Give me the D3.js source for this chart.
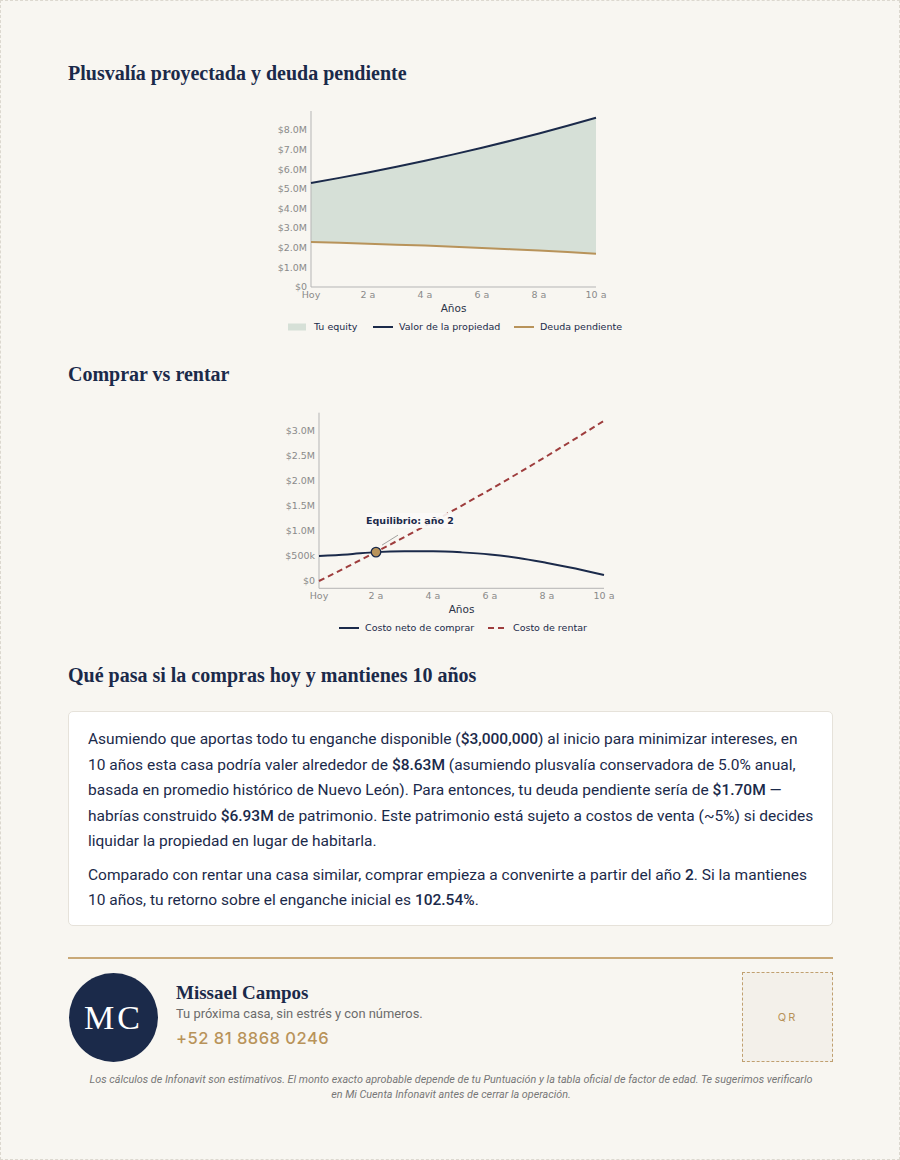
<!DOCTYPE html>
<html><head><meta charset="utf-8">
<script src="https://cdn.jsdelivr.net/npm/d3@7"></script>
<style>
html,body{margin:0;padding:0;background:#f8f6f1;}
#page{position:relative;width:898px;height:1158px;border:1px dashed #dcd8cf;background:#f8f6f1;overflow:hidden;font-family:Inter,"Noto Sans",sans-serif;color:#1b2a4a;}
.h{position:absolute;left:67px;font-family:"Liberation Serif","DejaVu Serif",serif;font-weight:bold;font-size:20px;color:#1b2a4a;white-space:nowrap;}
#card{position:absolute;left:67px;top:710px;width:765px;height:215px;background:#fff;border:1px solid #e6e2da;border-radius:5px;box-sizing:border-box;padding:15px 19px;}
#card p{margin:0 0 8px 0;font-family:Roboto,Inter,sans-serif;font-size:15.5px;line-height:25.5px;white-space:nowrap;}
#card b{font-weight:500;}
#rule{position:absolute;left:67px;top:956px;width:765px;height:2px;background:#c9a978;}
#avatar{position:absolute;left:68px;top:972px;width:89px;height:89px;border-radius:50%;background:#1b2a4a;color:#fff;font-family:"Liberation Serif","DejaVu Serif",serif;font-size:34px;line-height:89px;text-align:center;letter-spacing:3px;}
#name{position:absolute;left:175px;top:981px;font-family:"Liberation Serif","DejaVu Serif",serif;font-weight:bold;font-size:19px;color:#1b2a4a;}
#tag{position:absolute;left:175px;top:1005px;font-family:Roboto,sans-serif;font-size:12.9px;color:#6b6b6b;}
#phone{position:absolute;left:175px;top:1027px;font-size:16.5px;color:#b8935a;letter-spacing:0.5px;font-weight:500;}
#qr{position:absolute;left:741px;top:971px;width:91px;height:90px;box-sizing:border-box;border:1.5px dashed #c0a070;background:#f3f0ea;color:#b8935a;font-size:11px;letter-spacing:2px;text-align:center;line-height:88px;}
#disc{position:absolute;left:60px;top:1071px;width:780px;text-align:center;font-family:Roboto,sans-serif;font-size:10.8px;line-height:15px;font-style:italic;color:#777;}
</style></head>
<body><div id="page">
<div class="h" style="top:61px">Plusvalía proyectada y deuda pendiente</div>
<div class="h" style="top:362px">Comprar vs rentar</div>
<div class="h" style="top:663px">Qué pasa si la compras hoy y mantienes 10 años</div>
<svg id="charts" width="900" height="660" style="position:absolute;left:0;top:0"></svg>
<div id="card">
<p>Asumiendo que aportas todo tu enganche disponible (<b>$3,000,000</b>) al inicio para minimizar intereses, en<br>10 años esta casa podría valer alrededor de <b>$8.63M</b> (asumiendo plusvalía conservadora de 5.0% anual,<br>basada en promedio histórico de Nuevo León). Para entonces, tu deuda pendiente sería de <b>$1.70M</b> —<br>habrías construido <b>$6.93M</b> de patrimonio. Este patrimonio está sujeto a costos de venta (~5%) si decides<br>liquidar la propiedad en lugar de habitarla.</p>
<p>Comparado con rentar una casa similar, comprar empieza a convenirte a partir del año <b>2</b>. Si la mantienes<br>10 años, tu retorno sobre el enganche inicial es <b>102.54%</b>.</p>
</div>
<div id="rule"></div>
<div id="avatar">MC</div>
<div id="name">Missael Campos</div>
<div id="tag">Tu próxima casa, sin estrés y con números.</div>
<div id="phone">+52 81 8868 0246</div>
<div id="qr">QR</div>
<div id="disc">Los cálculos de Infonavit son estimativos. El monto exacto aprobable depende de tu Puntuación y la tabla oficial de factor de edad. Te sugerimos verificarlo<br>en Mi Cuenta Infonavit antes de cerrar la operación.</div>
</div>
<script>
// ---- data ----
const years = [0,1,2,3,4,5,6,7,8,9,10];
const xTickLabels = ["Hoy","2 a","4 a","6 a","8 a","10 a"];
const xTickValues = [0,2,4,6,8,10];
const propertyValue = [5.30,5.565,5.843,6.135,6.442,6.764,7.102,7.457,7.830,8.222,8.633];
const debtRemaining = [2.30,2.26,2.21,2.16,2.11,2.05,1.99,1.93,1.86,1.78,1.70];
const yTicks1 = [0,1,2,3,4,5,6,7,8];
const buyNetCost = [0.50,0.53,0.575,0.59,0.59,0.57,0.53,0.46,0.36,0.25,0.12];
const rentCost = [0,0.285,0.577,0.876,1.183,1.497,1.819,2.149,2.488,2.834,3.19];
const yTicks2 = [0,0.5,1.0,1.5,2.0,2.5,3.0];
const breakEvenYear = 2;

const NAVY="#1b2a4a", GOLD="#b8935a", RED="#9e3d3d", FILL="#d6e0d7", GRAY="#8a8a8a", SPINE="#b5b5b5";
const svg = d3.select("#charts");
const fmt1 = v => v===0 ? "$0" : "$"+v.toFixed(1)+"M";
const fmt2 = v => v===0 ? "$0" : (v<1 ? "$"+Math.round(v*1000)+"k" : "$"+v.toFixed(1)+"M");

function frame(g, x, y, yt, fmt, xLabelY){
  const [x0,x1]=x.range(), [yb,yt0]=y.range();
  g.append("line").attr("x1",x0).attr("x2",x0).attr("y1",yb).attr("y2",yt0).attr("stroke",SPINE).attr("stroke-width",1);
  g.append("line").attr("x1",x0).attr("x2",x1).attr("y1",yb).attr("y2",yb).attr("stroke",SPINE).attr("stroke-width",1);
  g.selectAll(".yt").data(yt).join("text").attr("x",x0-4).attr("y",d=>y(d)).attr("dy","0.35em")
    .attr("text-anchor","end").attr("font-family","DejaVu Sans").attr("font-size",9.5).attr("fill",GRAY).text(fmt);
  g.selectAll(".xt").data(xTickValues).join("text").attr("x",d=>x(d)).attr("y",yb+11)
    .attr("text-anchor","middle").attr("font-family","DejaVu Sans").attr("font-size",9.5).attr("fill",GRAY)
    .text((d,i)=>xTickLabels[i]);
  g.append("text").attr("x",(x0+x1)/2).attr("y",xLabelY).attr("text-anchor","middle")
    .attr("font-family","DejaVu Sans").attr("font-size",10.5).attr("fill","#2b3347").text("Años");
}

// ---- chart 1 ----
{
  const g = svg.append("g");
  const x = d3.scaleLinear().domain([0,10]).range([310,595]);
  const y = d3.scaleLinear().domain([0,8.975]).range([286,110]);
  g.append("path").datum(years).attr("fill",FILL)
    .attr("d",d3.area().x(d=>x(d)).y0((d,i)=>y(debtRemaining[i])).y1((d,i)=>y(propertyValue[i])));
  frame(g,x,y,yTicks1,fmt1,311);
  g.append("path").datum(years).attr("fill","none").attr("stroke",GOLD).attr("stroke-width",2)
    .attr("d",d3.line().x(d=>x(d)).y((d,i)=>y(debtRemaining[i])));
  g.append("path").datum(years).attr("fill","none").attr("stroke",NAVY).attr("stroke-width",2)
    .attr("d",d3.line().x(d=>x(d)).y((d,i)=>y(propertyValue[i])));
  const ly=326;
  g.append("rect").attr("x",287).attr("y",ly-3.5).attr("width",18).attr("height",7).attr("fill",FILL);
  g.append("text").attr("x",313).attr("y",ly).attr("dy","0.35em").attr("font-family","DejaVu Sans").attr("font-size",9.5).attr("fill",NAVY).text("Tu equity");
  g.append("line").attr("x1",372).attr("x2",392).attr("y1",ly).attr("y2",ly).attr("stroke",NAVY).attr("stroke-width",2);
  g.append("text").attr("x",398).attr("y",ly).attr("dy","0.35em").attr("font-family","DejaVu Sans").attr("font-size",9.5).attr("fill",NAVY).text("Valor de la propiedad");
  g.append("line").attr("x1",513).attr("x2",533).attr("y1",ly).attr("y2",ly).attr("stroke",GOLD).attr("stroke-width",2);
  g.append("text").attr("x",539).attr("y",ly).attr("dy","0.35em").attr("font-family","DejaVu Sans").attr("font-size",9.5).attr("fill",NAVY).text("Deuda pendiente");
}

// ---- chart 2 ----
{
  const g = svg.append("g");
  const x = d3.scaleLinear().domain([0,10]).range([318,603]);
  const y = d3.scaleLinear().domain([-0.145,3.35]).range([587.3,411.7]);
  frame(g,x,y,yTicks2,fmt2,612);
  g.append("path").datum(years).attr("fill","none").attr("stroke",NAVY).attr("stroke-width",2)
    .attr("d",d3.line().curve(d3.curveMonotoneX).x(d=>x(d)).y((d,i)=>y(buyNetCost[i])));
  g.append("path").datum(years).attr("fill","none").attr("stroke",RED).attr("stroke-width",2).attr("stroke-dasharray","6,4")
    .attr("d",d3.line().x(d=>x(d)).y((d,i)=>y(rentCost[i])));
  const bx=x(breakEvenYear), by=y(buyNetCost[breakEvenYear]);
  g.append("line").attr("x1",bx+6).attr("y1",by-7).attr("x2",bx+22).attr("y2",by-17).attr("stroke","#666").attr("stroke-width",0.6);
  g.append("rect").attr("x",365).attr("y",512).attr("width",88).attr("height",15).attr("rx",2).attr("fill","#fbfaf7").attr("opacity",0.9);
  g.append("text").attr("x",409).attr("y",519.5).attr("dy","0.35em").attr("text-anchor","middle")
    .attr("font-family","DejaVu Sans").attr("font-weight","bold").attr("font-size",9.5).attr("fill",NAVY).text("Equilibrio: año "+breakEvenYear);
  g.append("circle").attr("cx",bx).attr("cy",by).attr("r",4.8).attr("fill",GOLD).attr("stroke",NAVY).attr("stroke-width",1.3);
  const ly=627;
  g.append("line").attr("x1",338).attr("x2",358).attr("y1",ly).attr("y2",ly).attr("stroke",NAVY).attr("stroke-width",2);
  g.append("text").attr("x",364).attr("y",ly).attr("dy","0.35em").attr("font-family","DejaVu Sans").attr("font-size",9.5).attr("fill",NAVY).text("Costo neto de comprar");
  g.append("line").attr("x1",487).attr("x2",507).attr("y1",ly).attr("y2",ly).attr("stroke",RED).attr("stroke-width",2).attr("stroke-dasharray","6,4");
  g.append("text").attr("x",512).attr("y",ly).attr("dy","0.35em").attr("font-family","DejaVu Sans").attr("font-size",9.5).attr("fill",NAVY).text("Costo de rentar");
}
</script>
</body></html>
